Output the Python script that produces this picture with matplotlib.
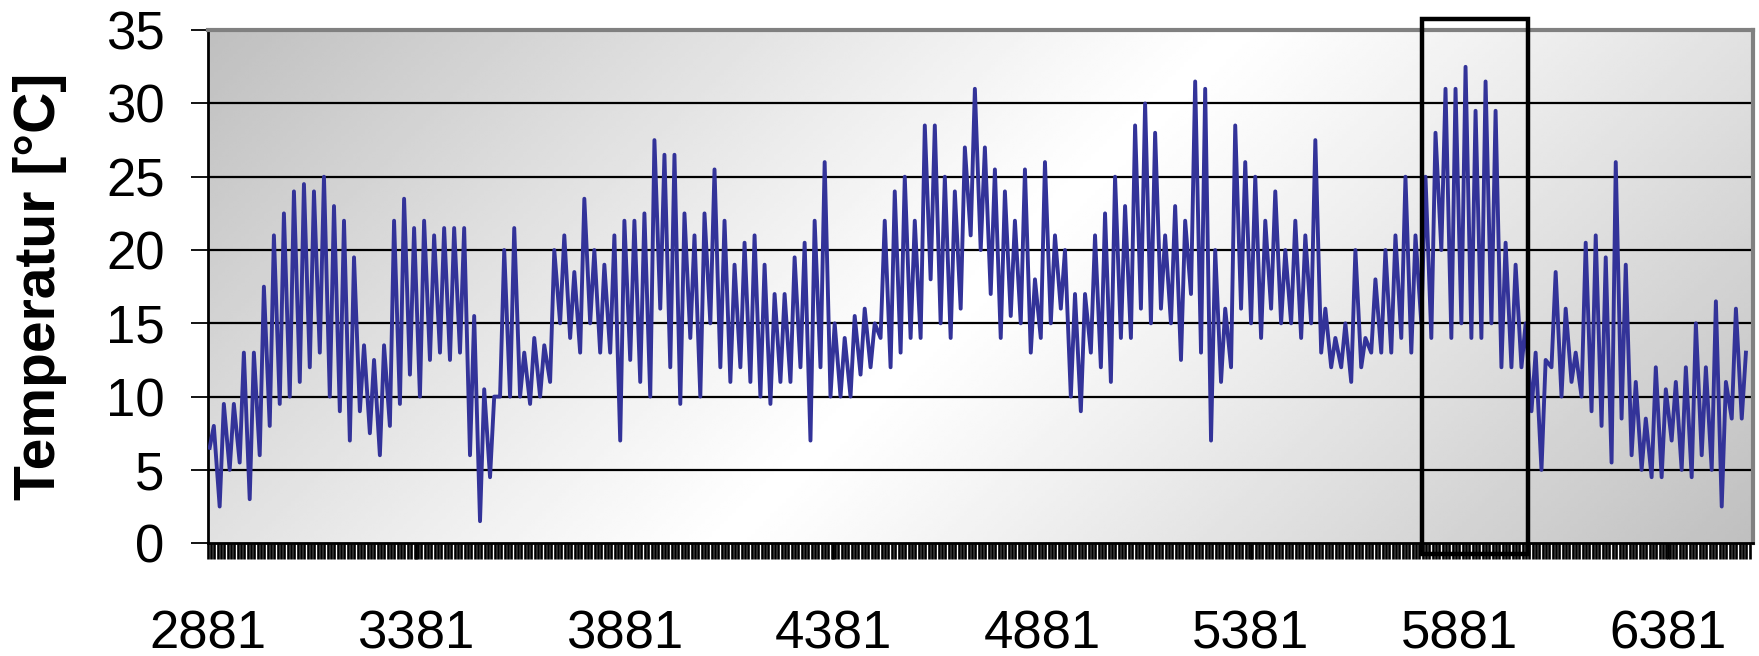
import numpy as np
import matplotlib
matplotlib.use('Agg')
import matplotlib.pyplot as plt
from matplotlib.patches import Rectangle

plt.rcParams['font.family'] = ['Liberation Sans', 'DejaVu Sans']

# hourly index of the first value and axis settings
first_hour = 2881
label_hours = [2881, 3381, 3881, 4381, 4881, 5381, 5881, 6381]
y_ticks = [0, 5, 10, 15, 20, 25, 30, 35]

# daily maximum / minimum temperature (one entry per day)
daily_max = [8, 9.5, 9.5, 13, 13,
             17.5, 21, 22.5, 24, 24.5, 24, 25,
             23, 22, 19.5,
             13.5, 12.5,
             13.5, 22, 23.5, 21.5, 22, 21, 21.5, 21.5,
             21.5, 15.5,
             10.5, 10,
             20, 21.5,
             13, 14, 13.5,
             20, 21, 18.5, 23.5, 20, 19,
             21, 22, 22, 22.5,
             27.5, 26.5, 26.5, 22.5,
             21, 22.5, 25.5, 22,
             19, 20.5, 21, 19, 17, 17, 19.5, 20.5,
             22, 26,
             15, 14, 15.5, 16, 15,
             22, 24, 25, 22,
             28.5, 28.5,
             25, 24, 27,
             31, 27,
             25.5, 24, 22, 25.5,
             18, 26, 21, 20,
             17, 17,
             21, 22.5, 25, 23,
             28.5, 30, 28,
             21, 23, 22,
             31.5, 31,
             20, 16,
             28.5, 26, 25,
             22, 24, 20, 22, 21,
             27.5, 16, 14,
             15, 20, 14, 18, 20,
             21, 25,
             21, 25, 28, 31, 31, 32.5, 29.5, 31.5, 29.5, 20.5,
             19, 15, 13, 12.5, 18.5, 16, 13, 20.5, 21, 19.5, 26, 19,
             11, 8.5, 12, 10.5, 11, 12, 15, 12, 16.5, 11, 16, 13]

daily_min = [6.5, 2.5, 5, 5.5, 3,
             6, 8, 9.5, 10, 11, 12, 13,
             10, 9, 7,
             9, 7.5,
             6, 8, 9.5, 11.5, 10, 12.5, 13, 12.5,
             13, 6,
             1.5, 4.5,
             10, 10,
             10, 9.5, 10,
             11, 15, 14, 13, 15, 13,
             13, 7, 12.5, 11,
             10, 16, 12, 9.5,
             14, 10, 15, 12,
             11, 12, 11, 10, 9.5, 11, 11, 12,
             7, 12,
             10, 10, 10, 11.5, 12,
             14, 12, 13, 14,
             14, 18,
             15, 14, 16,
             21, 20,
             17, 14, 15.5, 15,
             13, 14, 15, 16,
             10, 9,
             13, 12, 11, 14,
             14, 16, 15,
             16, 15, 12.5,
             17, 13,
             7, 11,
             12, 16, 15,
             14, 16, 15, 15, 14,
             15, 13, 12,
             12, 11, 12, 13, 13,
             13, 14,
             13, 15, 14, 20, 14, 15, 14, 14, 15, 12,
             12, 12, 9, 5, 12, 10, 11, 10, 9, 8, 5.5, 8.5,
             6, 5, 4.5, 4.5, 7, 5, 4.5, 6, 5, 2.5, 8.5, 8.5]

# highlighted period (hours)
box_start, box_end = 5791, 6045

# daily series -> hourly positions (min in the early morning, max in the afternoon)
days = np.arange(len(daily_max))
hours = np.column_stack([first_hour + 24 * days + 5, first_hour + 24 * days + 15]).ravel()
temps = np.column_stack([daily_min, daily_max]).ravel()

fig = plt.figure(figsize=(17.59, 6.56), dpi=100)
ax = fig.add_axes([0.118, 0.172, 0.8786, 0.782])

x0, x1 = first_hour, 6585
ax.set_xlim(x0, x1)
ax.set_ylim(0, 35)

# plot area gradient: dark corners top-left / bottom-right, light band
# running from the top right to the bottom left
W, H = 1545, 513
u = np.linspace(0, 1, 400)
v = np.linspace(0, 1, 200)      # 0 = top row
U, V = np.meshgrid(u, v)
t = (U * W + V * H) / (W + H)
g = 1 - 0.25 * np.abs(2 * t - 1) ** 1.1
ax.imshow(g, cmap='gray', vmin=0, vmax=1, extent=[x0, x1, 0, 35],
          origin='upper', aspect='auto', zorder=0, interpolation='bilinear')
ax.set_ylim(0, 35)

for yv in y_ticks[1:-1]:
    ax.axhline(yv, color='black', lw=1.6, zorder=1)

ax.plot(hours, temps, color='#333399', lw=2.8, zorder=3)

ax.add_patch(Rectangle((box_start, -0.75), box_end - box_start, 36.5,
                       fill=False, ec='black', lw=3.2, clip_on=False, zorder=5))

ax.set_yticks(y_ticks)
ax.set_xticks(label_hours)
ax.set_xticks(np.arange(first_hour, x1, 8), minor=True)
ax.tick_params(axis='y', direction='out', length=12, width=1.3, labelsize=38, pad=19)
ax.tick_params(axis='x', which='both', direction='out', length=11.5, width=1.9,
               labelsize=38, pad=36)
ax.set_ylabel('Temperatur [°C]', fontsize=41, fontweight='bold')
ax.yaxis.set_label_coords(-0.091, 0.5)

for s in ['left', 'bottom']:
    ax.spines[s].set_color('black')
    ax.spines[s].set_linewidth(2)
for s in ['top', 'right']:
    ax.spines[s].set_color('#808080')
    ax.spines[s].set_linewidth(3)

fig.savefig('out.png', dpi=100)
